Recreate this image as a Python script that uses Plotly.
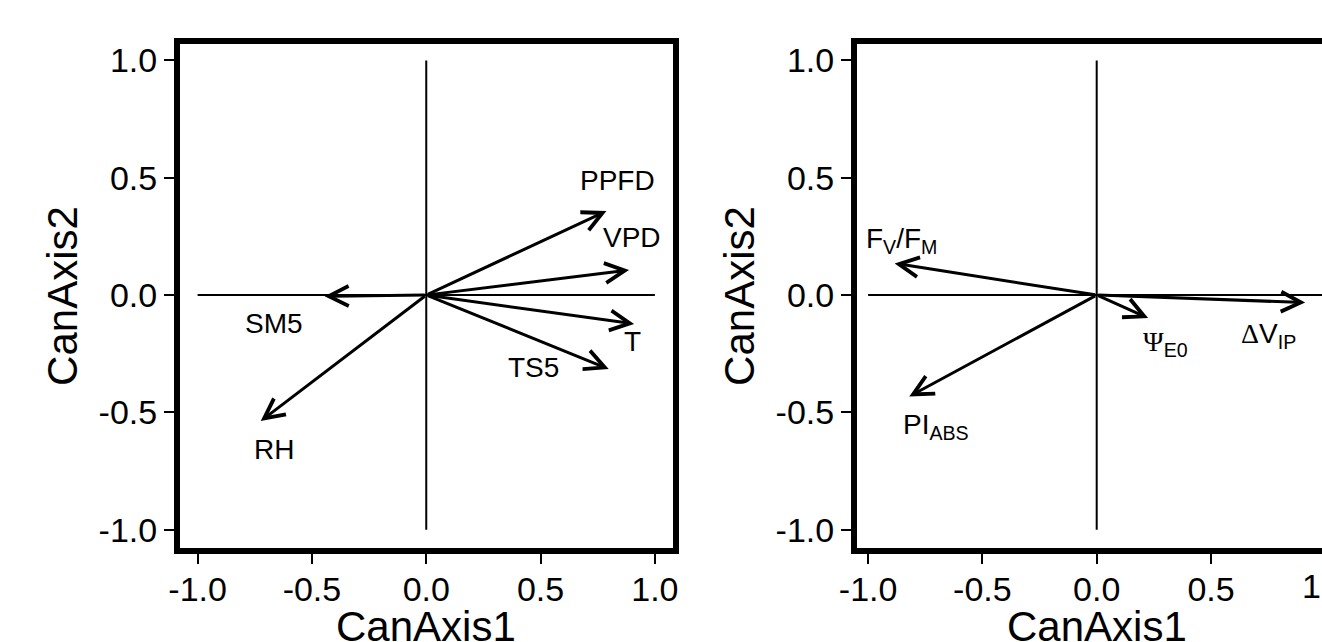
import plotly.graph_objects as go

# ---------------- data ----------------
left_vars = ["PPFD", "VPD", "T", "TS5", "SM5", "RH"]
left_x = [0.788, 0.887, 0.909, 0.798, -0.445, -0.724]
left_y = [0.358, 0.107, -0.123, -0.315, -0.005, -0.537]
left_lab_x = [0.835, 0.900, 0.903, 0.468, -0.665, -0.667]
left_lab_y = [0.490, 0.245, -0.200, -0.310, -0.120, -0.660]

SERIF = "font-family:'Liberation Serif','Times New Roman',serif"
right_vars = ["F<sub>V</sub>/F<sub>M</sub>",
              "<span style=\"%s\">&#916;</span>V<sub>IP</sub>" % SERIF,
              "<span style=\"%s\">&#936;</span><sub>E0</sub>" % SERIF,
              "PI<sub>ABS</sub>"]
right_x = [-0.884, 0.912, 0.225, -0.820]
right_y = [0.135, -0.032, -0.098, -0.432]
right_lab_x = [-0.855, 0.750, 0.300, -0.702]
right_lab_y = [0.232, -0.172, -0.205, -0.560]

ref_line = [-1.0, 1.0]
tick_vals = [-1.0, -0.5, 0.0, 0.5, 1.0]
tick_text = ["-1.0", "-0.5", "0.0", "0.5", "1.0"]
x_title = "CanAxis1"
y_title = "CanAxis2"

# ---------------- layout constants ----------------
W, H = 1322, 642
FONT = "Liberation Sans, Arial, sans-serif"
dom_x1 = [180 / W, 672.5 / W]
dom_x2 = [857 / W, 1.0]
dom_y = [(H - 548) / H, (H - 44) / H]
rng_x1 = [-1.077, 1.077]
rng_x2 = [-1.0486, 0.9856]
rng_y = [-1.078, 1.070]

fig = go.Figure()

for xa, ya in (("x", "y"), ("x2", "y2")):
    fig.add_trace(go.Scatter(x=ref_line, y=[0, 0], mode="lines", xaxis=xa, yaxis=ya,
                             line=dict(color="black", width=2), showlegend=False, hoverinfo="skip"))
    fig.add_trace(go.Scatter(x=[0, 0], y=ref_line, mode="lines", xaxis=xa, yaxis=ya,
                             line=dict(color="black", width=2), showlegend=False, hoverinfo="skip"))

annotations = []


def add_arrows(xs, ys, names, lx, ly, xref, yref):
    for x, y, n, tx, ty in zip(xs, ys, names, lx, ly):
        annotations.append(dict(x=x, y=y, ax=0, ay=0, xref=xref, yref=yref,
                                axref=xref, ayref=yref, text="", showarrow=True,
                                arrowhead=5, arrowsize=1.3, arrowwidth=3,
                                arrowcolor="black", standoff=0, startstandoff=0))
        annotations.append(dict(x=tx, y=ty, xref=xref, yref=yref, text=n, showarrow=False,
                                xanchor="center", yanchor="middle",
                                font=dict(family=FONT, size=28, color="black")))


add_arrows(left_x, left_y, left_vars, left_lab_x, left_lab_y, "x", "y")
add_arrows(right_x, right_y, right_vars, right_lab_x, right_lab_y, "x2", "y2")

# x-axis titles (placed low, partly cut by the image bottom as in the reference)
for xr in ("x", "x2"):
    annotations.append(dict(x=0.0, y=(H - 626) / H, xref=xr, yref="paper", text=x_title,
                            showarrow=False, xanchor="center", yanchor="middle",
                            font=dict(family=FONT, size=42, color="black")))

# partially visible "1.0" tick label of the right panel (cut by the image edge)
frac = dom_x2[0] + (tick_vals[-1] - rng_x2[0]) / (rng_x2[1] - rng_x2[0]) * (dom_x2[1] - dom_x2[0])
annotations.append(dict(x=frac, y=(H - 586) / H, xref="paper", yref="paper", text=tick_text[-1],
                        showarrow=False, xanchor="center", yanchor="middle",
                        font=dict(family=FONT, size=34, color="black")))

axis_common = dict(
    showgrid=False, zeroline=False, showline=True, linecolor="black", linewidth=6,
    ticks="outside", ticklen=10, tickwidth=2, tickcolor="black",
    tickvals=tick_vals, ticktext=tick_text,
    tickfont=dict(family=FONT, size=34, color="black"),
    title_font=dict(family=FONT, size=42, color="black"),
    fixedrange=True, automargin=False,
)

fig.update_layout(
    width=W, height=H,
    margin=dict(l=0, r=0, t=0, b=0, autoexpand=False),
    paper_bgcolor="white", plot_bgcolor="white",
    showlegend=False,
    xaxis=dict(domain=dom_x1, range=rng_x1, anchor="y", mirror=True, ticklabelstandoff=-4,
               **axis_common),
    yaxis=dict(domain=dom_y, range=rng_y, anchor="x", mirror=True,
               title=dict(text=y_title, standoff=10), **axis_common),
    xaxis2=dict(domain=dom_x2, range=rng_x2, anchor="y2", mirror=True, ticklabelstandoff=-4,
                **axis_common),
    yaxis2=dict(domain=dom_y, range=rng_y, anchor="x2", mirror=False,
                title=dict(text=y_title, standoff=10), **axis_common),
    annotations=annotations,
)

fig.write_html("out.html", config={"displayModeBar": False},
               post_script="document.body.style.margin='0';")
